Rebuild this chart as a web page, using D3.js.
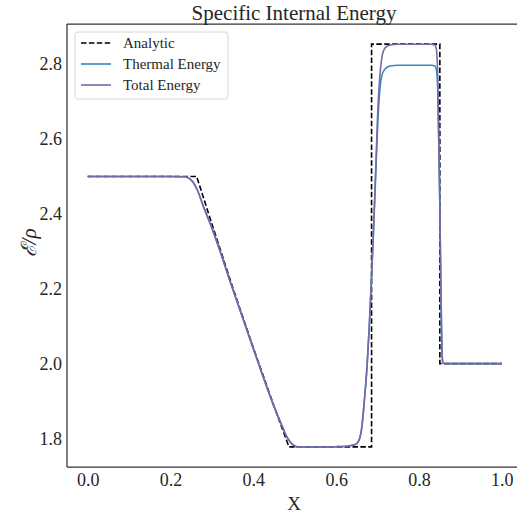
<!DOCTYPE html>
<html>
<head>
<meta charset="utf-8">
<script src="https://cdn.jsdelivr.net/npm/d3@7"></script>
<style>
  html, body { margin: 0; padding: 0; background: #fff; }
  svg text { font-family: "Liberation Serif", "DejaVu Serif", serif; fill: #262626; }
</style>
</head>
<body>
<div id="chart"></div>
<script>
// Sod shock tube, specific internal energy at t = 0.2

// Exact solution (piecewise, with vertical jumps at the contact and the shock)
const analyticX = [0.0, 0.263, 0.30, 0.35, 0.40, 0.45, 0.486, 0.6855, 0.6855, 0.8504, 0.8504, 1.0];
const analyticE = [2.5, 2.5, 2.373, 2.204, 2.042, 1.886, 1.7775, 1.7775, 2.8535, 2.8535, 2.0, 2.0];

// Simulated profiles
const simX = [0.0, 0.20, 0.235, 0.245, 0.255, 0.265, 0.28, 0.30, 0.35, 0.40, 0.45, 0.47, 0.48, 0.49,
              0.50, 0.51, 0.55, 0.60, 0.63, 0.645, 0.655, 0.662, 0.668, 0.675, 0.68, 0.685, 0.69,
              0.695, 0.70, 0.705, 0.71, 0.718, 0.73, 0.75, 0.83, 0.838, 0.842, 0.845, 0.847, 0.850,
              0.853, 0.856, 0.858, 0.87, 1.0];
const totalE = [2.5, 2.5, 2.499, 2.495, 2.484, 2.463, 2.418, 2.362, 2.200, 2.040, 1.885, 1.832, 1.806, 1.789,
                1.780, 1.777, 1.777, 1.778, 1.780, 1.783, 1.795, 1.830, 1.900, 2.000, 2.100, 2.220, 2.350,
                2.500, 2.660, 2.760, 2.815, 2.843, 2.851, 2.853, 2.853, 2.851, 2.840, 2.780, 2.650, 2.450,
                2.200, 2.020, 2.001, 2.0, 2.0];
const thermalE = [2.5, 2.5, 2.499, 2.495, 2.484, 2.463, 2.418, 2.362, 2.200, 2.040, 1.885, 1.832, 1.806, 1.789,
                  1.780, 1.777, 1.777, 1.778, 1.780, 1.783, 1.795, 1.830, 1.900, 2.000, 2.100, 2.220, 2.350,
                  2.490, 2.630, 2.725, 2.768, 2.787, 2.795, 2.797, 2.797, 2.795, 2.786, 2.740, 2.640, 2.450,
                  2.200, 2.020, 2.001, 2.0, 2.0];

const xTicks = [0.0, 0.2, 0.4, 0.6, 0.8, 1.0];
const yTicks = [1.8, 2.0, 2.2, 2.4, 2.6, 2.8];

const seriesNames = ["Analytic", "Thermal Energy", "Total Energy"];
const seriesColors = ["#000000", "#348ABD", "#7A68A6"];

const W = 517, H = 515;
const margin = { left: 67, top: 24, bottom: 467 };

const svg = d3.select("#chart").append("svg")
  .attr("width", W).attr("height", H);

const x = d3.scaleLinear().domain([-0.05, 1.05]).range([margin.left, 522.5]);
const y = d3.scaleLinear().domain([1.7237, 2.9073]).range([margin.bottom, margin.top]);

const plot = svg.append("g");

// frame
const frame = svg.append("g").attr("stroke", "#333").attr("stroke-width", 1.25).attr("fill", "none");
frame.append("line").attr("x1", x.range()[0]).attr("x2", x.range()[0]).attr("y1", y.range()[0]).attr("y2", y.range()[1]);
frame.append("line").attr("x1", x.range()[0]).attr("x2", x.range()[1]).attr("y1", y.range()[0]).attr("y2", y.range()[0]);
frame.append("line").attr("x1", x.range()[0]).attr("x2", x.range()[1]).attr("y1", y.range()[1]).attr("y2", y.range()[1]);
frame.append("line").attr("x1", x.range()[1]).attr("x2", x.range()[1]).attr("y1", y.range()[0]).attr("y2", y.range()[1]);

// axes (labels only, no tick marks)
const xAxis = svg.append("g").attr("transform", `translate(0,${margin.bottom})`)
  .call(d3.axisBottom(x).tickValues(xTicks).tickFormat(d3.format(".1f")).tickSize(0).tickPadding(6));
const yAxis = svg.append("g").attr("transform", `translate(${margin.left},0)`)
  .call(d3.axisLeft(y).tickValues(yTicks).tickFormat(d3.format(".1f")).tickSize(0).tickPadding(5));
[xAxis, yAxis].forEach(a => {
  a.select(".domain").remove();
  a.selectAll("text").attr("font-size", 18).attr("font-family", "Liberation Serif, serif").attr("fill", "#262626");
});

// curves
const lineSmooth = d3.line().curve(d3.curveMonotoneX);
const lineStraight = d3.line();

plot.append("path")
  .attr("d", lineStraight(analyticX.map((v, i) => [x(v), y(analyticE[i])])))
  .attr("fill", "none").attr("stroke", seriesColors[0]).attr("stroke-width", 1.6)
  .attr("stroke-dasharray", "5.5,2.4");

plot.append("path")
  .attr("d", lineSmooth(simX.map((v, i) => [x(v), y(thermalE[i])])))
  .attr("fill", "none").attr("stroke", seriesColors[1]).attr("stroke-width", 1.6);

plot.append("path")
  .attr("d", lineSmooth(simX.map((v, i) => [x(v), y(totalE[i])])))
  .attr("fill", "none").attr("stroke", seriesColors[2]).attr("stroke-width", 1.6);

// title and axis labels
svg.append("text").attr("x", 294).attr("y", 20).attr("text-anchor", "middle")
  .attr("font-size", 21).text("Specific Internal Energy");
svg.append("text").attr("x", 294).attr("y", 510).attr("text-anchor", "middle")
  .attr("font-size", 19).text("X");
svg.append("text")
  .attr("transform", "translate(36,243) rotate(-90)")
  .attr("text-anchor", "middle").attr("font-size", 21).attr("font-style", "italic")
  .text("ℰ/ρ");

// legend
const legend = svg.append("g");
legend.append("rect").attr("x", 75).attr("y", 32).attr("width", 153).attr("height", 67)
  .attr("rx", 3).attr("fill", "#fff").attr("fill-opacity", 0.8).attr("stroke", "#d6d6d6").attr("stroke-width", 1);
seriesNames.forEach((name, i) => {
  const yy = 43 + i * 21;
  legend.append("line").attr("x1", 81).attr("x2", 111).attr("y1", yy).attr("y2", yy)
    .attr("stroke", seriesColors[i]).attr("stroke-width", 1.6)
    .attr("stroke-dasharray", i === 0 ? "5.5,2.4" : null);
  legend.append("text").attr("x", 123).attr("y", yy + 5).attr("font-size", 15).text(name);
});
</script>
</body>
</html>
